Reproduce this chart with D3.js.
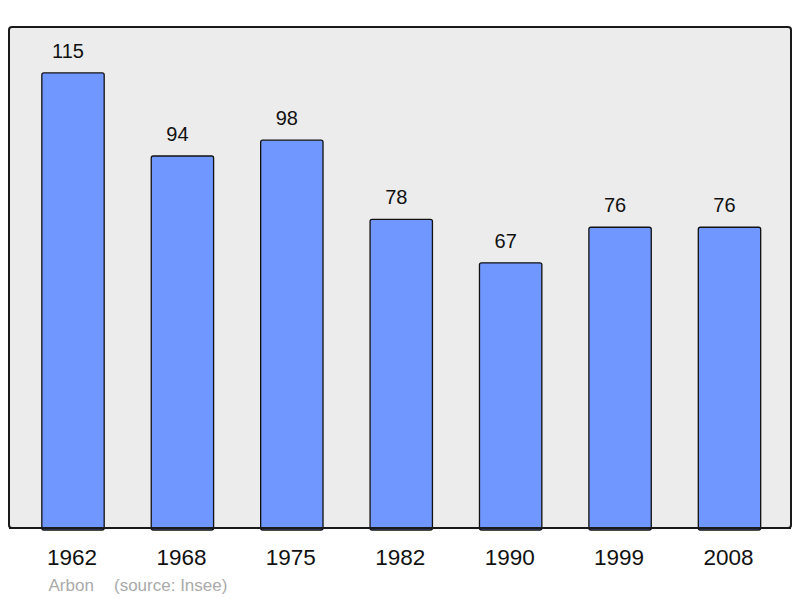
<!DOCTYPE html>
<html>
<head>
<meta charset="utf-8">
<script src="https://cdn.jsdelivr.net/npm/d3@7.9.0/dist/d3.min.js"></script>
<style>
  body { margin: 0; background: #fff; }
  svg { display: block; font-family: 'Liberation Sans', Arial, sans-serif; }
</style>
</head>
<body>
<svg id="chart" width="800" height="598"></svg>
<script>
const years = ['1962', '1968', '1975', '1982', '1990', '1999', '2008'];
const population = [115, 94, 98, 78, 67, 76, 76];
const commune = 'Arbon';
const source = '(source: Insee)';

const data = years.map((year, i) => ({ year, value: population[i] }));

const svg = d3.select('#chart');

const x = d3
  .scaleBand()
  .domain(years)
  .range([18.3, 784.2])
  .paddingInner(0.43)
  .paddingOuter(0.215);

const y = d3.scaleLinear().domain([0, 126.6]).range([528, 27]);

// background panel
svg
  .append('rect')
  .attr('x', 9)
  .attr('y', 27)
  .attr('width', 782)
  .attr('height', 501)
  .attr('rx', 3)
  .attr('fill', '#ececec')
  .attr('stroke', '#1a1a1a')
  .attr('stroke-width', 2);

svg
  .selectAll('rect.bar')
  .data(data)
  .join('rect')
  .attr('class', 'bar')
  .attr('x', (d) => x(d.year))
  .attr('y', (d) => y(d.value))
  .attr('width', x.bandwidth())
  .attr('height', (d) => y(0) - y(d.value) + 2)
  .attr('rx', 2)
  .attr('fill', '#7096ff')
  .attr('stroke', '#111')
  .attr('stroke-width', 1.3);

// redraw bottom border over bar bottoms
svg
  .append('line')
  .attr('x1', 9)
  .attr('x2', 791)
  .attr('y1', 528)
  .attr('y2', 528)
  .attr('stroke', '#1a1a1a')
  .attr('stroke-width', 2);

svg
  .selectAll('text.value')
  .data(data)
  .join('text')
  .attr('class', 'value')
  .attr('x', (d) => x(d.year) + x.bandwidth() / 2 - 5)
  .attr('y', (d) => y(d.value) - 15)
  .attr('text-anchor', 'middle')
  .attr('font-size', 20)
  .attr('fill', '#111')
  .text((d) => d.value);

const xAxis = d3.axisBottom(x).tickSize(0).tickPadding(0);
const axisG = svg
  .append('g')
  .attr('transform', 'translate(-1,565)')
  .call(xAxis);
axisG.select('.domain').remove();
axisG
  .selectAll('text')
  .attr('font-size', 22.5)
  .attr('font-family', "'Liberation Sans', Arial, sans-serif")
  .attr('fill', '#111')
  .attr('dy', 0);

svg
  .append('text')
  .attr('x', 48.5)
  .attr('y', 590.5)
  .attr('font-size', 17)
  .attr('fill', '#aaa')
  .text(commune);

svg
  .append('text')
  .attr('x', 114)
  .attr('y', 590.5)
  .attr('font-size', 17)
  .attr('fill', '#aaa')
  .text(source);
</script>
</body>
</html>
